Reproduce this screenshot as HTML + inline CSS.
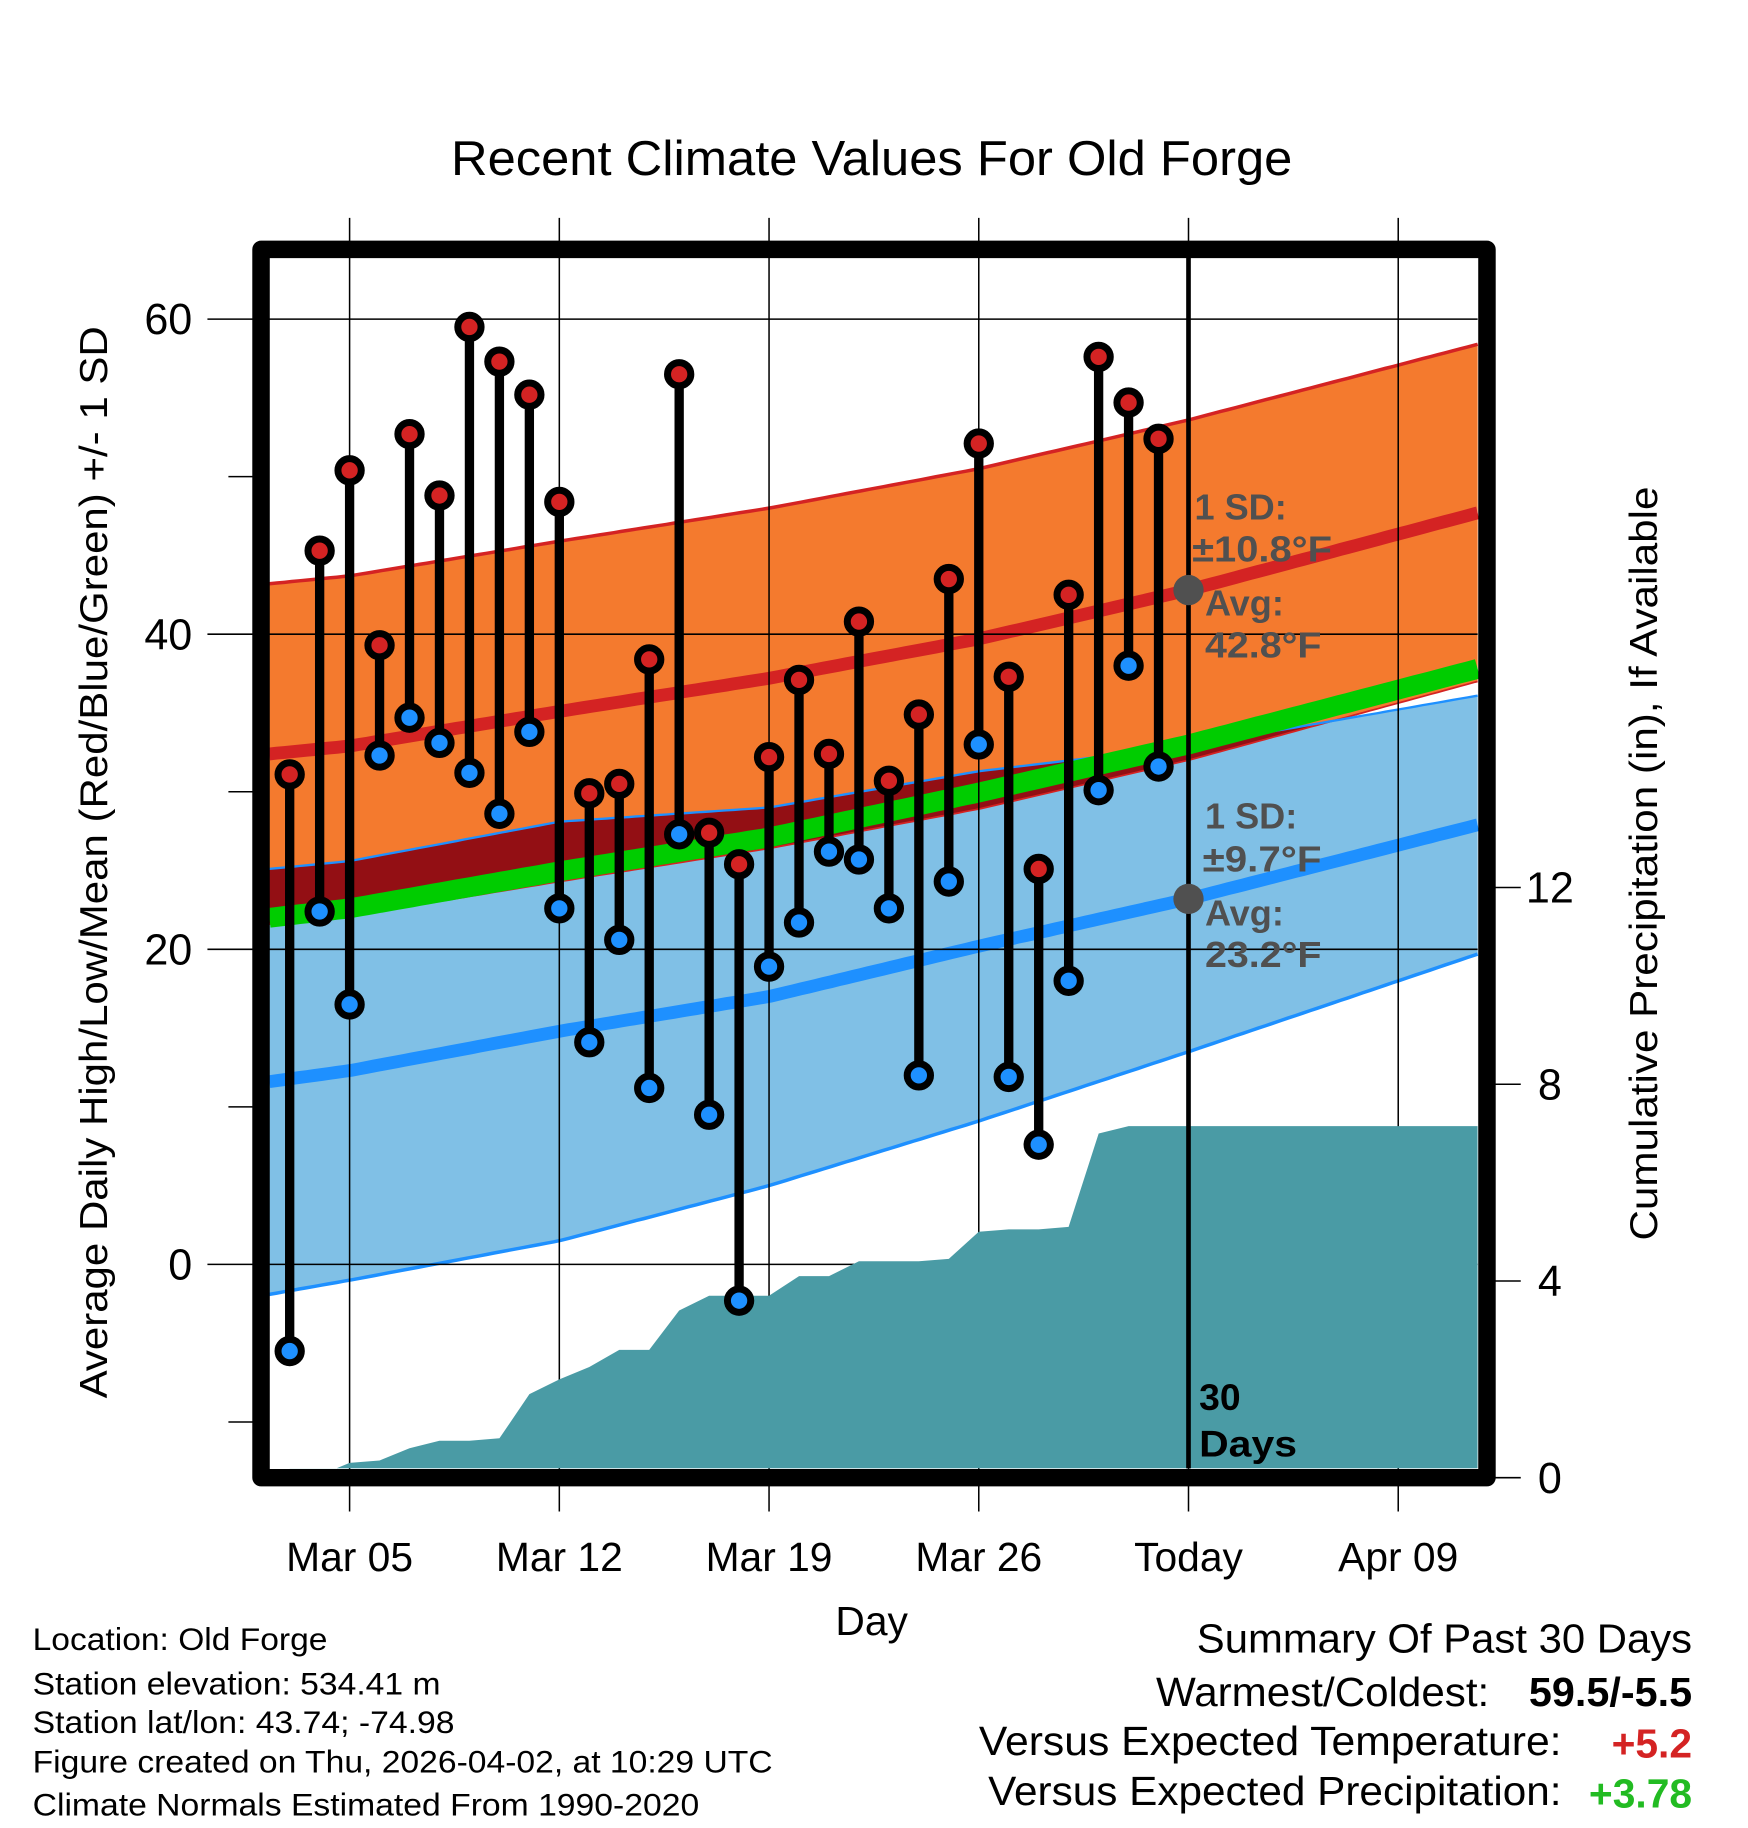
<!DOCTYPE html>
<html><head><meta charset="utf-8">
<style>
html,body{margin:0;padding:0;background:#fff;}
svg{display:block;font-family:"Liberation Sans",Arial,sans-serif;}
</style></head>
<body>
<svg id="chart" xmlns="http://www.w3.org/2000/svg" width="1748" height="1828" viewBox="0 0 1500 1568.6" preserveAspectRatio="none">
<text x="748" y="150" font-size="42" text-anchor="middle" textLength="722" lengthAdjust="spacingAndGlyphs">Recent Climate Values For Old Forge</text>
<g id="plot"></g>
</svg>
<script>
// ---- data ----
const obsDays = [2,3,4,5,6,7,8,9,10,11,12,13,14,15,16,17,18,19,20,21,22,23,24,25,26,27,28,29,30,31];
const highs = [31.1,45.3,50.4,39.3,52.7,48.8,59.5,57.3,55.2,48.4,29.9,30.5,38.4,56.5,27.4,25.4,32.2,37.1,32.4,40.8,30.7,34.9,43.5,52.1,37.3,25.1,42.5,57.6,54.7,52.4];
const lows = [-5.5,22.4,16.5,32.3,34.7,33.1,31.2,28.6,33.8,22.6,14.1,20.6,11.2,27.3,9.5,-2.3,18.9,21.7,26.2,25.7,22.6,12.0,24.3,33.0,11.9,7.6,18.0,30.1,38.0,31.6];
const precip = [0,0.05,0.3,0.35,0.6,0.75,0.75,0.8,1.7,2.0,2.25,2.6,2.6,3.4,3.7,3.7,3.7,4.1,4.1,4.4,4.4,4.4,4.45,5.0,5.05,5.05,5.1,7.0,7.15,7.15];
const normDays = [1.32,4,11,18,25,32,41.65];
const highMean = [32.4,32.9,35.1,37.2,39.7,42.8,47.7];
const highSD = [10.8,10.8,10.8,10.8,10.8,10.8,10.7];
const lowMean = [11.6,12.3,14.8,17.0,20.2,23.2,27.9];
const lowSD = [13.5,13.3,13.3,12.0,11.1,9.7,8.2];
const xTickDays = [4,11,18,25,32,39];
const xTickLabels = ["Mar 05","Mar 12","Mar 19","Mar 26","Today","Apr 09"];
const yTicks = [0,20,40,60];
const yMinor = [-10,10,30,50];
const pTicks = [0,4,8,12];

// ---- axes ----
const X = d => 300 + (d-4)*25.71;
const Y = v => 1085 - 13.52*v;
const P = p => 1268 - 42.2*p;
const L=231,R=1268,T=221,B=1260;
const NS="http://www.w3.org/2000/svg";
const g=document.getElementById('plot');
function mk(tag,attrs,parent){const e=document.createElementNS(NS,tag);for(const k in attrs)e.setAttribute(k,attrs[k]);(parent||g).appendChild(e);return e;}
function interp(arr,d){for(let i=0;i<normDays.length-1;i++){if(d<=normDays[i+1]){const t=(d-normDays[i])/(normDays[i+1]-normDays[i]);return arr[i]+t*(arr[i+1]-arr[i]);}}return arr[arr.length-1];}
const samp=[];for(let d=normDays[0];d<normDays[6];d+=0.25)samp.push(d);samp.push(normDays[6]);
function series(fn){return samp.map(d=>[X(d),fn(d)]);}
function pts(a){return a.map(p=>p[0].toFixed(1)+','+p[1].toFixed(1)).join(' ');}

const cp=mk('clipPath',{id:'pc'});
mk('rect',{x:L,y:T,width:R-L,height:B-T},cp);

const hu=series(d=>Y(interp(highMean,d)+interp(highSD,d)));
const hl=series(d=>Y(interp(highMean,d)-interp(highSD,d)));
const lu=series(d=>Y(interp(lowMean,d)+interp(lowSD,d)));
const ll=series(d=>Y(interp(lowMean,d)-interp(lowSD,d)));
const hm=series(d=>Y(interp(highMean,d)));
const lm=series(d=>Y(interp(lowMean,d)));
const mm=series(d=>Y((interp(highMean,d)+interp(lowMean,d))/2));
const ovBot=series(d=>Math.max(Y(interp(highMean,d)-interp(highSD,d)),Y(interp(lowMean,d)+interp(lowSD,d))));

let e;
e=mk('polygon',{points:pts(lu.concat(ll.slice().reverse())),fill:'#80c0e6'});

e=mk('polygon',{points:pts(hu.concat(hl.slice().reverse())),fill:'#f47a2e'});

e=mk('polygon',{points:pts(lu.concat(ovBot.slice().reverse())),fill:'#930f14'});

e=mk('polyline',{points:pts(hu),fill:'none',stroke:'#d42323','stroke-width':3});

e=mk('polyline',{points:pts(hl),fill:'none',stroke:'#d42323','stroke-width':1.5});

e=mk('polyline',{points:pts(lu),fill:'none',stroke:'#1e90ff','stroke-width':2});

e=mk('polyline',{points:pts(ll),fill:'none',stroke:'#1e90ff','stroke-width':3});

e=mk('polyline',{points:pts(mm),fill:'none',stroke:'#00cc00','stroke-width':17});

e=mk('polyline',{points:pts(hm),fill:'none',stroke:'#d42323','stroke-width':11});

e=mk('polyline',{points:pts(lm),fill:'none',stroke:'#1e90ff','stroke-width':11});


// grid
xTickDays.forEach((d,i)=>{
  const l=mk('line',{x1:X(d),x2:X(d),y1:187,y2:1297,stroke:'#000','stroke-width':1.3});
  
  const t=mk('text',{x:X(d),y:1348,'font-size':35,'text-anchor':'middle'});t.textContent=xTickLabels[i];
  
});
yTicks.forEach(v=>{
  const l=mk('line',{x1:178,x2:R,y1:Y(v),y2:Y(v),stroke:'#000','stroke-width':1.3});
  
  const t=mk('text',{x:165,y:Y(v)+13,'font-size':37,'text-anchor':'end'});t.textContent=v;
  
});
yMinor.forEach(v=>{
  const l=mk('line',{x1:196,x2:217,y1:Y(v),y2:Y(v),stroke:'#000','stroke-width':1.3});
  
});
pTicks.forEach(p=>{
  const l=mk('line',{x1:1283,x2:1305,y1:P(p),y2:P(p),stroke:'#000','stroke-width':1.3});
  
  const t=mk('text',{x:1330,y:P(p)+13,'font-size':37,'text-anchor':'middle'});t.textContent=p;
  
});

// precip area
const pa=[[X(obsDays[0]),P(0)]];
obsDays.forEach((d,i)=>pa.push([X(d),P(precip[i])]));
pa.push([R,P(precip[precip.length-1])]);pa.push([R,B]);pa.push([X(obsDays[0]),B]);
e=mk('polygon',{points:pts(pa),fill:'#4a9ba5','clip-path':'url(#pc)'});


// today line
e=mk('line',{x1:X(32),x2:X(32),y1:T,y2:B,stroke:'#000','stroke-width':4});


// stems and dots
obsDays.forEach((d,i)=>{
  const x=X(d);
  const s=mk('line',{x1:x,x2:x,y1:Y(highs[i]),y2:Y(lows[i]),stroke:'#000','stroke-width':8});
  
});
obsDays.forEach((d,i)=>{
  const x=X(d);
  const c1=mk('circle',{cx:x,cy:Y(highs[i]),r:10,fill:'#d42323',stroke:'#000','stroke-width':6});
  
  const c2=mk('circle',{cx:x,cy:Y(lows[i]),r:10,fill:'#1e90ff',stroke:'#000','stroke-width':6});
  
});

// annotation dots
e=mk('circle',{cx:X(32),cy:Y(42.8),r:13,fill:'#505050'});

e=mk('circle',{cx:X(32),cy:Y(23.2),r:13,fill:'#505050'});


// frame
e=mk('rect',{x:224,y:214,width:1052,height:1054,fill:'none',stroke:'#000','stroke-width':15,'stroke-linejoin':'round'});

</script>
<svg style="position:absolute;left:0;top:0" width="1748" height="1828" viewBox="0 0 1500 1568.6" preserveAspectRatio="none" font-family="Liberation Sans, Arial, sans-serif">
<g font-weight="bold" font-size="31" fill="#505050">
<text x="1025" y="446">1 SD:</text>
<text x="1023" y="482" textLength="120" lengthAdjust="spacingAndGlyphs">±10.8°F</text>
<text x="1034" y="528">Avg:</text>
<text x="1034" y="564" textLength="100" lengthAdjust="spacingAndGlyphs">42.8°F</text>
<text x="1034" y="711">1 SD:</text>
<text x="1032" y="748" textLength="102" lengthAdjust="spacingAndGlyphs">±9.7°F</text>
<text x="1034" y="794">Avg:</text>
<text x="1034" y="830" textLength="100" lengthAdjust="spacingAndGlyphs">23.2°F</text>
</g>
<g font-weight="bold" font-size="32" fill="#000">
<text x="1029" y="1210">30</text>
<text x="1029" y="1250" textLength="84" lengthAdjust="spacingAndGlyphs">Days</text>
</g>
<text x="748" y="1403" font-size="35" text-anchor="middle">Day</text>
<text transform="translate(92,740) rotate(-90)" font-size="33" text-anchor="middle" textLength="920" lengthAdjust="spacingAndGlyphs">Average Daily High/Low/Mean (Red/Blue/Green) +/- 1 SD</text>
<text transform="translate(1422,741) rotate(-90)" font-size="33" text-anchor="middle" textLength="647" lengthAdjust="spacingAndGlyphs">Cumulative Precipitation (in), If Available</text>
<g font-size="27">
<text x="28" y="1416" textLength="253" lengthAdjust="spacingAndGlyphs">Location: Old Forge</text>
<text x="28" y="1454" textLength="350" lengthAdjust="spacingAndGlyphs">Station elevation: 534.41 m</text>
<text x="28" y="1487" textLength="362" lengthAdjust="spacingAndGlyphs">Station lat/lon: 43.74; -74.98</text>
<text x="28" y="1521" textLength="635" lengthAdjust="spacingAndGlyphs">Figure created on Thu, 2026-04-02, at 10:29 UTC</text>
<text x="28" y="1558" textLength="572" lengthAdjust="spacingAndGlyphs">Climate Normals Estimated From 1990-2020</text>
</g>
<g font-size="35" text-anchor="end">
<text x="1452" y="1418" textLength="425" lengthAdjust="spacingAndGlyphs">Summary Of Past 30 Days</text>
<text x="1278" y="1464" textLength="286" lengthAdjust="spacingAndGlyphs">Warmest/Coldest:</text>
<text x="1452" y="1464" font-weight="bold" textLength="140" lengthAdjust="spacingAndGlyphs">59.5/-5.5</text>
<text x="1340" y="1506" textLength="500" lengthAdjust="spacingAndGlyphs">Versus Expected Temperature:</text>
<text x="1452" y="1508" font-weight="bold" fill="#d42323">+5.2</text>
<text x="1340" y="1549" textLength="492" lengthAdjust="spacingAndGlyphs">Versus Expected Precipitation:</text>
<text x="1452" y="1551" font-weight="bold" fill="#22bb22">+3.78</text>
</g>
</svg>
</body></html>
